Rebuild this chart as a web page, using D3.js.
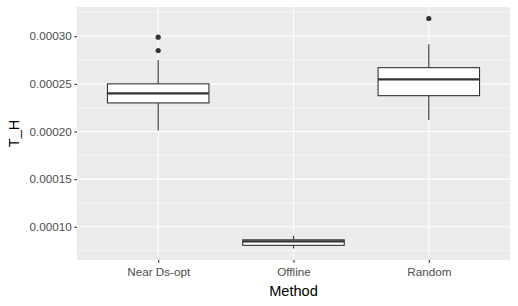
<!DOCTYPE html>
<html>
<head>
<meta charset="utf-8">
<script src="https://cdn.jsdelivr.net/npm/d3@7"></script>
<style>
  body { margin: 0; background: #fff; }
  text { font-family: "Liberation Sans", Arial, sans-serif; }
</style>
</head>
<body>
<script>
// Box statistics
var methods = ["Near Ds-opt", "Offline", "Random"];
var whiskerLow = [0.000201, 0.0000772, 0.000212];
var q1 = [0.000230, 0.0000805, 0.0002376];
var median = [0.000240, 0.0000847, 0.0002547];
var q3 = [0.000250, 0.0000863, 0.000267];
var whiskerHigh = [0.000275, 0.0000905, 0.0002916];
var outliers = [[0.000299, 0.000285], [], [0.0003186]];
var yTicks = [0.00010, 0.00015, 0.00020, 0.00025, 0.00030];
var yMinor = [0.000075, 0.000125, 0.000175, 0.000225, 0.000275, 0.000325];

var W = 518, H = 306;
var margin = {top: 7, right: 8, bottom: 46, left: 77},
    width = W - margin.left - margin.right,
    height = H - margin.top - margin.bottom;

var svg = d3.select("body").append("svg")
    .attr("width", W)
    .attr("height", H);

var g = svg.append("g")
    .attr("transform", "translate(" + margin.left + "," + margin.top + ")");

// ggplot style expansion
var lo = d3.min(whiskerLow), hi = d3.max(outliers.flat().concat(whiskerHigh));
var pad = (hi - lo) * 0.05;
var y = d3.scaleLinear().domain([lo - pad, hi + pad]).range([height, 0]);

var x = d3.scalePoint().domain(methods).range([0, width]).padding(0.6);
var step = x.step();
var boxW = step * 0.75;

g.append("rect")
    .attr("width", width)
    .attr("height", height)
    .attr("fill", "#EBEBEB");

// grid
g.selectAll(".minor").data(yMinor.filter(d => y(d) >= 0 && y(d) <= height)).enter()
  .append("line")
    .attr("x1", 0).attr("x2", width)
    .attr("y1", d => y(d)).attr("y2", d => y(d))
    .attr("stroke", "#fff").attr("stroke-width", 0.55);

g.selectAll(".major").data(yTicks).enter()
  .append("line")
    .attr("x1", 0).attr("x2", width)
    .attr("y1", d => y(d)).attr("y2", d => y(d))
    .attr("stroke", "#fff").attr("stroke-width", 1.1);

g.selectAll(".xgrid").data(methods).enter()
  .append("line")
    .attr("x1", d => x(d)).attr("x2", d => x(d))
    .attr("y1", 0).attr("y2", height)
    .attr("stroke", "#fff").attr("stroke-width", 1.1);

// boxes
var boxes = g.selectAll(".box").data(methods).enter().append("g");

boxes.append("line")
    .attr("x1", d => x(d)).attr("x2", d => x(d))
    .attr("y1", (d, i) => y(whiskerHigh[i])).attr("y2", (d, i) => y(q3[i]))
    .attr("stroke", "#333").attr("stroke-width", 1.1);

boxes.append("line")
    .attr("x1", d => x(d)).attr("x2", d => x(d))
    .attr("y1", (d, i) => y(q1[i])).attr("y2", (d, i) => y(whiskerLow[i]))
    .attr("stroke", "#333").attr("stroke-width", 1.1);

boxes.append("rect")
    .attr("x", d => x(d) - boxW / 2)
    .attr("width", boxW)
    .attr("y", (d, i) => y(q3[i]))
    .attr("height", (d, i) => y(q1[i]) - y(q3[i]))
    .attr("fill", "#fff")
    .attr("stroke", "#333").attr("stroke-width", 1.1);

boxes.append("line")
    .attr("x1", d => x(d) - boxW / 2).attr("x2", d => x(d) + boxW / 2)
    .attr("y1", (d, i) => y(median[i])).attr("y2", (d, i) => y(median[i]))
    .attr("stroke", "#333").attr("stroke-width", 2.2);

boxes.each(function(d, i) {
    d3.select(this).selectAll("circle").data(outliers[i]).enter()
      .append("circle")
        .attr("cx", x(d))
        .attr("cy", v => y(v))
        .attr("r", 2.6)
        .attr("fill", "#333");
});

// axes
var yAxis = g.append("g")
    .call(d3.axisLeft(y).tickValues(yTicks).tickSize(2.7).tickPadding(2.5)
      .tickFormat(d3.format(".5f")));
var xAxis = g.append("g")
    .attr("transform", "translate(0," + height + ")")
    .call(d3.axisBottom(x).tickSize(2.7).tickPadding(4.5));

[yAxis, xAxis].forEach(function(a) {
    a.select(".domain").remove();
    a.selectAll("line").attr("stroke", "#333").attr("stroke-width", 1.1);
    a.selectAll("text").attr("fill", "#4D4D4D")
      .style("font-size", "11.7px")
      .style("font-family", "Liberation Sans, Arial, sans-serif");
});

svg.append("text")
    .attr("x", margin.left + width / 2)
    .attr("y", 296)
    .attr("text-anchor", "middle")
    .style("font-size", "14.6px")
    .attr("fill", "#000")
    .text("Method");

svg.append("text")
    .attr("transform", "translate(19," + (margin.top + height / 2) + ") rotate(-90)")
    .attr("text-anchor", "middle")
    .style("font-size", "14.6px")
    .attr("fill", "#000")
    .text("T_H");
</script>
</body>
</html>
